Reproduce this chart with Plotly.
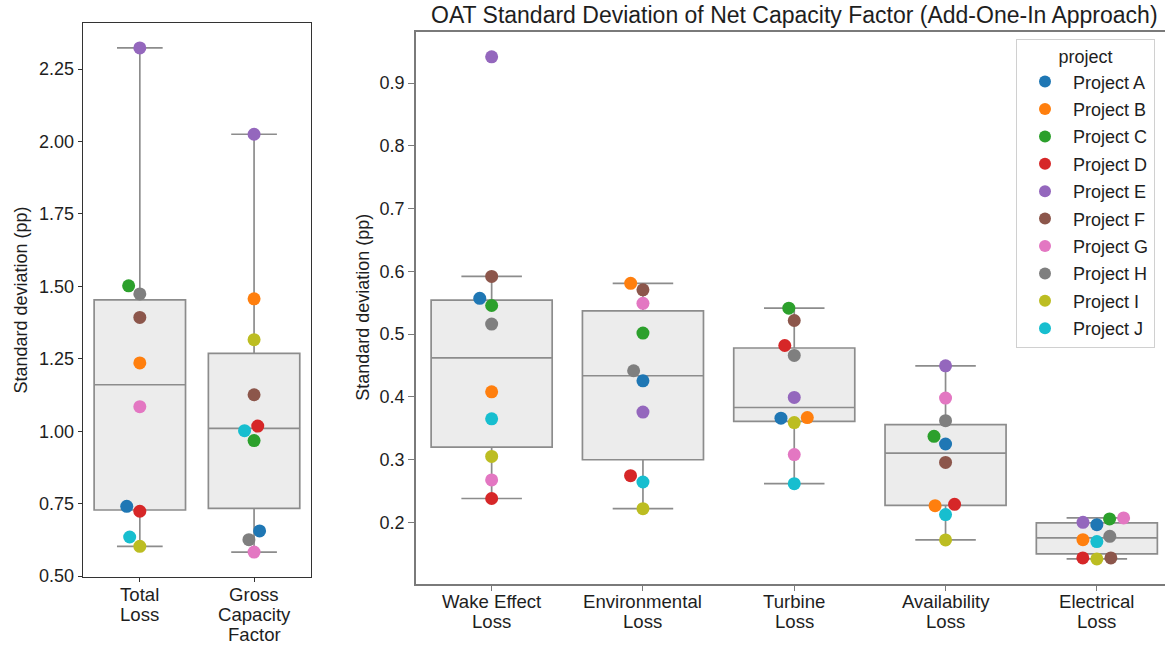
import numpy as np
import plotly.graph_objects as go

# ---------------------------------------------------------------- data
projects = ["Project A", "Project B", "Project C", "Project D", "Project E",
            "Project F", "Project G", "Project H", "Project I", "Project J"]
colors = ["#1f77b4", "#ff7f0e", "#2ca02c", "#d62728", "#9467bd",
          "#8c564b", "#e377c2", "#7f7f7f", "#bcbd22", "#17becf"]

left_ticktext = [["Total", "Loss"], ["Gross", "Capacity", "Factor"]]
total_loss = [0.741, 1.236, 1.502, 0.724, 2.323, 1.393, 1.085, 1.474, 0.603, 0.635]
gross_capacity_factor = [0.656, 1.457, 0.968, 1.018, 2.025, 1.126, 0.583, 0.626, 1.316, 1.002]

right_ticktext = [["Wake Effect", "Loss"], ["Environmental", "Loss"], ["Turbine", "Loss"],
                  ["Availability", "Loss"], ["Electrical", "Loss"]]
wake_effect_loss = [0.557, 0.408, 0.5456, 0.238, 0.942, 0.592, 0.2675, 0.516, 0.305, 0.365]
environmental_loss = [0.4256, 0.581, 0.5016, 0.2744, 0.3758, 0.5706, 0.549, 0.4416, 0.2218, 0.2643]
turbine_loss = [0.366, 0.367, 0.5414, 0.4818, 0.399, 0.5217, 0.308, 0.466, 0.359, 0.2616]
availability_loss = [0.3248, 0.2266, 0.337, 0.2287, 0.4495, 0.2955, 0.398, 0.362, 0.172, 0.2123]
electrical_loss = [0.1963, 0.1724, 0.2054, 0.1433, 0.200, 0.1433, 0.207, 0.1777, 0.1417, 0.1693]

left_groups = [total_loss, gross_capacity_factor]
right_groups = [wake_effect_loss, environmental_loss, turbine_loss,
                availability_loss, electrical_loss]

title_text = "OAT Standard Deviation of Net Capacity Factor (Add-One-In Approach)"
ylabel = "Standard deviation (pp)"

# ---------------------------------------------------------------- layout geometry (px)
W, H = 1165, 646
FONT = "Liberation Sans, Arial, sans-serif"
TXT = "#1e1e1e"
DOT = 13.4          # marker diameter in px
XLAB_SIZE = 18.6    # category label font size
XLAB_STEP = 20.0    # spacing between category label lines

left_px = dict(x0=82.7, x1=311.2, y0=22.7, y1=577.3)
right_px = dict(x0=416.0, x1=W, y0=31.7, y1=584.0)
right_cat_px = 151.3   # pixel width of one category on the right panel


def padded(groups):
    allv = np.concatenate([np.asarray(g, float) for g in groups])
    lo, hi = allv.min(), allv.max()
    pad = 0.05 * (hi - lo)
    return [lo - pad, hi + pad]


left_yrange = padded(left_groups)
right_yrange = padded(right_groups)
left_xrange = [-0.5, len(left_groups) - 0.5]
right_xrange = [-0.5, -0.5 + (right_px["x1"] - right_px["x0"]) / right_cat_px]


def box_stats(groups):
    q1s, meds, q3s, lows, highs = [], [], [], [], []
    for g in groups:
        v = np.asarray(g, float)
        q1, med, q3 = np.percentile(v, [25, 50, 75])
        iqr = q3 - q1
        lows.append(v[v >= q1 - 1.5 * iqr].min())
        highs.append(v[v <= q3 + 1.5 * iqr].max())
        q1s.append(q1); meds.append(med); q3s.append(q3)
    return q1s, meds, q3s, lows, highs


def swarm(values, px_per_y, px_per_x, d=DOT):
    """Beeswarm offsets (data x units) in the style of seaborn's swarmplot."""
    vals = np.asarray(values, float)
    order = np.argsort(vals, kind="stable")
    ys = vals * px_per_y
    placed = []
    xs = np.zeros(len(vals))
    for idx in order:
        y = ys[idx]
        neigh = []
        for xj, yj in reversed(placed):
            if y - yj < d:
                neigh.append((xj, yj))
            else:
                break
        cands = [0.0]
        left_first = True
        for xj, yj in neigh:
            dx = np.sqrt(max(d ** 2 - (y - yj) ** 2, 0)) * 1.05
            cands += [xj - dx, xj + dx] if left_first else [xj + dx, xj - dx]
            left_first = not left_first
        cands.sort(key=abs)
        chosen = cands[-1]
        for c in cands:
            if all((c - xj) ** 2 + (y - yj) ** 2 >= d ** 2 for xj, yj in neigh):
                chosen = c
                break
        placed.append((chosen, y))
        xs[idx] = chosen / px_per_x
    return xs


def scales(px, xr, yr):
    ppx = (px["x1"] - px["x0"]) / (xr[1] - xr[0])
    ppy = (px["y1"] - px["y0"]) / (yr[1] - yr[0])
    return ppx, ppy


fig = go.Figure()

panels = [
    (left_groups, left_xrange, left_yrange, left_px, "x", "y"),
    (right_groups, right_xrange, right_yrange, right_px, "x2", "y2"),
]

# boxes
for groups, xr, yr, px, xa, ya in panels:
    q1, med, q3, lo, hi = box_stats(groups)
    fig.add_trace(go.Box(
        x=list(range(len(groups))), q1=q1, median=med, q3=q3,
        lowerfence=lo, upperfence=hi, boxpoints=False,
        width=0.8, whiskerwidth=0.5,
        fillcolor="#ececec", line=dict(color="#8c8c8c", width=1.7),
        showlegend=False, hoverinfo="skip", xaxis=xa, yaxis=ya))

# swarm points
offsets = []
for groups, xr, yr, px, xa, ya in panels:
    ppx, ppy = scales(px, xr, yr)
    offsets.append([swarm(g, ppy, ppx) for g in groups])

for p, (name, col) in enumerate(zip(projects, colors)):
    for k, (groups, xr, yr, px, xa, ya) in enumerate(panels):
        fig.add_trace(go.Scatter(
            x=[i + offsets[k][i][p] for i in range(len(groups))],
            y=[g[p] for g in groups],
            mode="markers", name=name, legendgroup=name,
            showlegend=(k == 1),
            marker=dict(color=col, size=DOT - 0.4, line=dict(width=0)),
            xaxis=xa, yaxis=ya))


def dom_x(px):
    return [px["x0"] / W, min(px["x1"] / W, 1.0)]


def dom_y(px):
    return [1 - px["y1"] / H, 1 - px["y0"] / H]


axis_common = dict(showgrid=False, zeroline=False, ticks="outside",
                   tickfont=dict(family=FONT, size=18, color=TXT))

fig.update_layout(
    width=W, height=H,
    margin=dict(l=0, r=0, t=0, b=0),
    paper_bgcolor="white", plot_bgcolor="white",
    font=dict(family=FONT, size=18, color=TXT),
    showlegend=True,
    xaxis=dict(domain=dom_x(left_px), range=left_xrange, tickmode="array",
               tickvals=list(range(len(left_groups))), showticklabels=False,
               showline=True, mirror=True, linecolor="#333333", linewidth=1.2,
               ticklen=4, tickcolor="#333333", anchor="y", automargin=False,
               **axis_common),
    yaxis=dict(domain=dom_y(left_px), range=left_yrange, tickmode="array",
               tickvals=[0.5, 0.75, 1.0, 1.25, 1.5, 1.75, 2.0, 2.25],
               tickformat=".2f",
               showline=True, mirror=True, linecolor="#333333", linewidth=1.2,
               ticklen=4, tickcolor="#333333", anchor="x", automargin=False,
               **axis_common),
    xaxis2=dict(domain=dom_x(right_px), range=right_xrange, tickmode="array",
                tickvals=list(range(len(right_groups))), showticklabels=False,
                showline=True, mirror=True, linecolor="#7a7a7a", linewidth=1.6,
                ticklen=5, tickcolor="#7a7a7a", anchor="y2", automargin=False,
                **axis_common),
    yaxis2=dict(domain=dom_y(right_px), range=right_yrange, tickmode="array",
                tickvals=[0.2, 0.3, 0.4, 0.5, 0.6, 0.7, 0.8, 0.9],
                tickformat=".1f",
                showline=True, mirror=False, linecolor="#7a7a7a", linewidth=1.6,
                ticklen=6, tickcolor="#7a7a7a", anchor="x2", automargin=False,
                **axis_common),
    legend=dict(x=1016 / W, y=1 - 39.0 / H, xanchor="left", yanchor="top",
                bgcolor="white", bordercolor="#d0d0d0", borderwidth=1,
                font=dict(family=FONT, size=18, color=TXT),
                title=dict(text="project", side="top center",
                           font=dict(family=FONT, size=18, color=TXT)),
                itemsizing="constant", itemwidth=46, tracegroupgap=1),
)

# category labels, one line at a time for tight line spacing
for ticktext, xa, px in [(left_ticktext, "x", left_px), (right_ticktext, "x2", right_px)]:
    first_line = px["y1"] + 17.5
    for i, lines in enumerate(ticktext):
        for j, line in enumerate(lines):
            fig.add_annotation(text=line, x=i, xref=xa,
                               y=1 - (first_line + j * XLAB_STEP) / H, yref="paper",
                               xanchor="center", yanchor="middle", showarrow=False,
                               font=dict(family=FONT, size=XLAB_SIZE, color=TXT))

# title centred over the full right-hand axes
right_center = right_px["x0"] + right_cat_px * len(right_groups) / 2
fig.add_annotation(text=title_text, x=right_center / W, y=1 - 15 / H,
                   xref="paper", yref="paper", xanchor="center", yanchor="middle",
                   showarrow=False, font=dict(family=FONT, size=23, color=TXT))

# y axis titles
fig.add_annotation(text=ylabel, x=20.5 / W, y=1 - (left_px["y0"] + left_px["y1"]) / 2 / H,
                   xref="paper", yref="paper", xanchor="center", yanchor="middle",
                   textangle=-90, showarrow=False,
                   font=dict(family=FONT, size=18, color=TXT))
fig.add_annotation(text=ylabel, x=363 / W, y=1 - (right_px["y0"] + right_px["y1"]) / 2 / H,
                   xref="paper", yref="paper", xanchor="center", yanchor="middle",
                   textangle=-90, showarrow=False,
                   font=dict(family=FONT, size=18, color=TXT))

fig.write_html("out.html")
